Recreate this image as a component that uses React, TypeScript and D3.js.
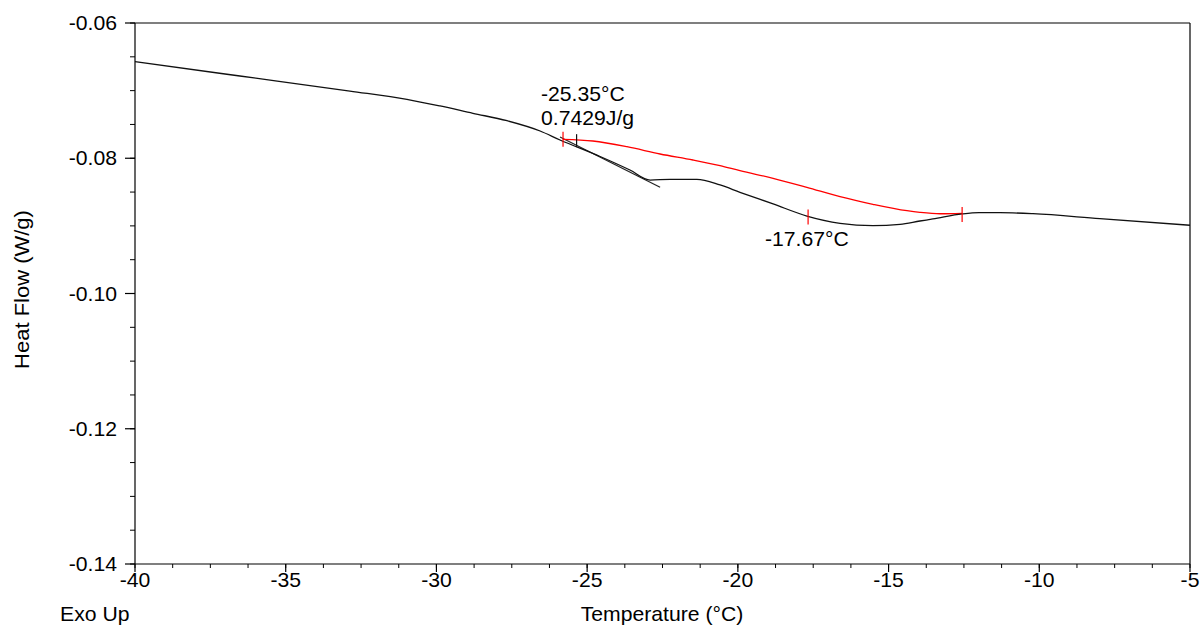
import React from "react";
import * as d3 from "d3";

// ---- data ----
const curveX = [-40, -36.52, -32.87, -30.98, -29.88, -28.79, -27.66, -26.56, -25.9, -24.57, -23.58, -22.91, -22.25, -21.36, -20.59, -19.93, -18.83, -17.71, -16.61, -15.52, -14.62, -13.96, -13.53, -12.56, -12.0, -11.3, -10.21, -7.99, -5];
const curveY = [-0.06572, -0.06784, -0.07006, -0.07128, -0.07227, -0.07335, -0.07445, -0.07597, -0.0773, -0.07974, -0.08174, -0.08322, -0.08311, -0.08311, -0.08395, -0.08503, -0.08676, -0.08854, -0.08962, -0.08997, -0.08977, -0.08928, -0.08898, -0.08824, -0.08805, -0.08805, -0.0882, -0.08894, -0.08991];

const baseX = [-25.8, -24.81, -23.68, -22.58, -21.49, -20.59, -19.93, -18.83, -17.71, -16.61, -15.52, -14.39, -13.96, -13.29, -12.56];
const baseY = [-0.0772, -0.07745, -0.07829, -0.07937, -0.08026, -0.0811, -0.08184, -0.08296, -0.0843, -0.08569, -0.08681, -0.08776, -0.088, -0.08821, -0.08814];

const tangentX = [-25.9, -22.58];
const tangentY = [-0.07685, -0.0843];

const redMarkX = [-25.8, -17.67, -12.56];
const redMarkY = [-0.0772, -0.08869, -0.08832];
const blackMarkX = [-25.35];
const blackMarkY = [-0.0774];

const xTicks = [-40, -35, -30, -25, -20, -15, -10, -5];
const yTicks = [-0.14, -0.12, -0.1, -0.08, -0.06];
const yTickLabels = ["-0.14", "-0.12", "-0.10", "-0.08", "-0.06"];

const onsetLabel = "-25.35°C";
const enthalpyLabel = "0.7429J/g";
const midLabel = "-17.67°C";
const xTitle = "Temperature (°C)";
const yTitle = "Heat Flow (W/g)";
const exoLabel = "Exo Up";

export default function App() {
  const W = 1200, H = 626;
  const L = 135, R = 1190, T = 23, B = 564;
  const x = d3.scaleLinear().domain([-40, -5]).range([L, R]);
  const y = d3.scaleLinear().domain([-0.14, -0.06]).range([B, T]);
  const line = d3.line<[number, number]>().x(d => x(d[0])).y(d => y(d[1]));
  const smooth = d3.line<[number, number]>().x(d => x(d[0])).y(d => y(d[1])).curve(d3.curveMonotoneX);

  const curvePts = curveX.map((v, i) => [v, curveY[i]] as [number, number]);
  const basePts = baseX.map((v, i) => [v, baseY[i]] as [number, number]);
  const tanPts = tangentX.map((v, i) => [v, tangentY[i]] as [number, number]);

  const minorX = d3.range(-40, -5 + 0.001, 1.25);
  const minorY = d3.range(-0.14, -0.06 + 0.0001, 0.005);

  const font = "'Liberation Sans', Arial, sans-serif";
  const fs = 20;
  const sx = 1.06;
  const T_ = (props: { x: number; y: number; anchor?: string; children: string }) => (
    <text
      transform={`translate(${props.x},${props.y}) scale(${sx},1)`}
      textAnchor={props.anchor || "start"}
      fontFamily={font}
      fontSize={fs}
      fill="#000"
    >
      {props.children}
    </text>
  );

  return (
    <svg width={W} height={H} style={{ position: "absolute", left: 0, top: 0, background: "#fff" }}>
      <rect x={0} y={0} width={W} height={H} fill="#fff" />
      {/* frame */}
      <line x1={L} x2={R} y1={T} y2={T} stroke="#000" strokeWidth={1.2} />
      <line x1={R} x2={R} y1={T} y2={B} stroke="#000" strokeWidth={1.2} />
      <line x1={L} x2={R} y1={B} y2={B} stroke="#000" strokeWidth={1.2} />
      <line x1={L} x2={L} y1={T} y2={B} stroke="#000" strokeWidth={1.2} />
      {/* x ticks */}
      {minorX.map((v, i) => (
        <line key={"mx" + i} x1={x(v)} x2={x(v)} y1={B} y2={B + 4} stroke="#000" strokeWidth={1} />
      ))}
      {xTicks.map((v, i) => (
        <g key={"x" + i}>
          <line x1={x(v)} x2={x(v)} y1={B} y2={B + 8} stroke="#000" strokeWidth={1.2} />
          <T_ x={x(v)} y={B + 23} anchor="middle">{String(v)}</T_>
        </g>
      ))}
      {/* y ticks */}
      {minorY.map((v, i) => (
        <line key={"my" + i} x1={L - 5} x2={L} y1={y(v)} y2={y(v)} stroke="#000" strokeWidth={1} />
      ))}
      {yTicks.map((v, i) => (
        <g key={"y" + i}>
          <line x1={L - 10} x2={L} y1={y(v)} y2={y(v)} stroke="#000" strokeWidth={1.2} />
          <T_ x={117} y={y(v) + 7} anchor="end">{yTickLabels[i]}</T_>
        </g>
      ))}
      {/* titles */}
      <T_ x={662} y={621} anchor="middle">{xTitle}</T_>
      <T_ x={60} y={621}>{exoLabel}</T_>
      <text
        transform={`translate(29,${(T + B) / 2 - 4}) rotate(-90) scale(1.1,1)`}
        textAnchor="middle"
        fontFamily={font}
        fontSize={fs}
      >
        {yTitle}
      </text>
      {/* data */}
      <path d={line(tanPts) || ""} fill="none" stroke="#222" strokeWidth={1.2} />
      <path d={smooth(basePts) || ""} fill="none" stroke="#ff0000" strokeWidth={1.3} />
      <path d={smooth(curvePts) || ""} fill="none" stroke="#111" strokeWidth={1.3} />
      {redMarkX.map((v, i) => (
        <line key={"rm" + i} x1={x(v)} x2={x(v)} y1={y(redMarkY[i]) - 7.5} y2={y(redMarkY[i]) + 7.5} stroke="#ff0000" strokeWidth={1.2} />
      ))}
      {blackMarkX.map((v, i) => (
        <line key={"bm" + i} x1={x(v)} x2={x(v)} y1={y(blackMarkY[i]) - 6.5} y2={y(blackMarkY[i]) + 6.5} stroke="#111" strokeWidth={1.2} />
      ))}
      {/* annotations */}
      <T_ x={541} y={101}>{onsetLabel}</T_>
      <T_ x={541} y={125}>{enthalpyLabel}</T_>
      <T_ x={765} y={246}>{midLabel}</T_>
    </svg>
  );
}
